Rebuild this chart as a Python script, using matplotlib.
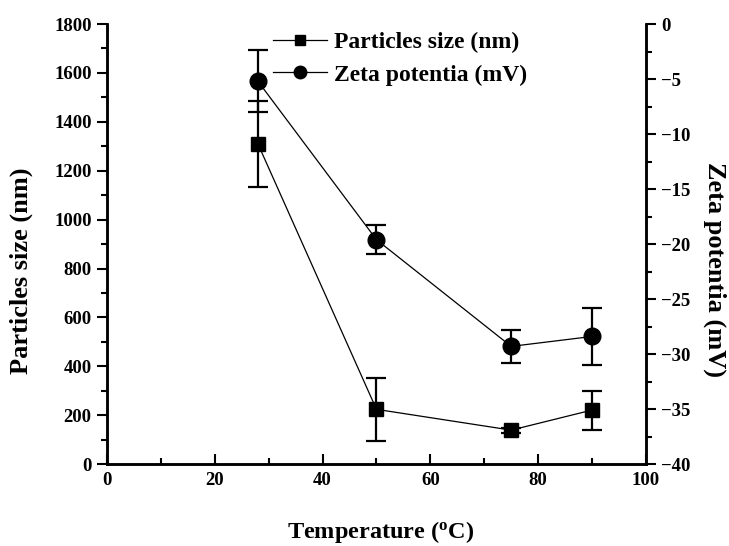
import numpy as np
import matplotlib
matplotlib.use('Agg')
import matplotlib.pyplot as plt
from matplotlib.lines import Line2D
from matplotlib.ticker import MultipleLocator

plt.rcParams['font.family'] = ['Liberation Serif', 'DejaVu Serif']
plt.rcParams['font.weight'] = 'bold'
plt.rcParams['mathtext.fontset'] = 'custom'
plt.rcParams['mathtext.rm'] = 'Liberation Serif:bold'

# 温度 (°C)
temperature = [28, 50, 75, 90]

# 粒径 (nm) 及误差
particle_size = [1310, 224, 139, 221]
size_err = [177, 130, 10, 80]

# Zeta 电位 (mV) 及误差
zeta = [-5.2, -19.6, -29.3, -28.4]
zeta_err = [2.8, 1.3, 1.5, 2.6]

fig = plt.figure(figsize=(7.29, 5.46), dpi=100)
ax = fig.add_axes([0.1468, 0.150, 0.7392, 0.806])
ax2 = ax.twinx()

ax.errorbar(temperature, particle_size, yerr=size_err, color='black',
            marker='s', markersize=10.5, linewidth=0.9, elinewidth=1.6,
            capsize=7, capthick=1.6)
ax2.errorbar(temperature, zeta, yerr=zeta_err, color='black',
             marker='o', markersize=12, linewidth=0.9, elinewidth=1.6,
             capsize=7, capthick=1.6)

ax.set_xlim(0, 100)
ax.set_ylim(0, 1800)
ax2.set_ylim(-40, 0)

ax.xaxis.set_major_locator(MultipleLocator(20))
ax.xaxis.set_minor_locator(MultipleLocator(10))
ax.yaxis.set_major_locator(MultipleLocator(200))
ax.yaxis.set_minor_locator(MultipleLocator(100))
ax2.yaxis.set_major_locator(MultipleLocator(5))
ax2.yaxis.set_minor_locator(MultipleLocator(2.5))

for a in (ax, ax2):
    a.spines['top'].set_visible(False)
    for s in ('left', 'right', 'bottom'):
        a.spines[s].set_linewidth(1.8)

ax.tick_params(axis='x', which='both', direction='in', width=1.5)
ax.tick_params(axis='x', which='major', length=7, labelsize=13.5, pad=6)
ax.tick_params(axis='x', which='minor', length=4)
ax.tick_params(axis='y', which='both', direction='out', width=1.5)
ax.tick_params(axis='y', which='major', length=7, labelsize=13.5, pad=4)
ax.tick_params(axis='y', which='minor', length=4)
ax2.tick_params(axis='y', which='both', direction='out', width=1.5)
ax2.tick_params(axis='y', which='major', length=7, labelsize=13.5, pad=4)
ax2.tick_params(axis='y', which='minor', length=4)

ax.set_xlabel(r'Temperature ($\mathregular{^o}$C)', fontsize=17.5, fontweight='bold')
ax.set_ylabel('Particles size (nm)', fontsize=19, fontweight='bold')
ax2.set_ylabel('Zeta potentia (mV)', fontsize=19, fontweight='bold', rotation=270)

# 轴标题位置（以标题中心定位）
ax.xaxis.set_label_coords(0.508, -0.154)
ax.yaxis.set_label_coords(-0.160, 0.439)
ax2.yaxis.set_label_coords(1.128, 0.443)
for lab in (ax.xaxis.label, ax.yaxis.label, ax2.yaxis.label):
    lab.set_verticalalignment('center')
    lab.set_horizontalalignment('center')

# 图例只显示线和标记，不带误差棒
handles = [
    Line2D([], [], color='black', linewidth=0.9, marker='s', markersize=7),
    Line2D([], [], color='black', linewidth=0.9, marker='o', markersize=9),
]
ax.legend(handles, ['Particles size (nm)', 'Zeta potentia (mV)'],
          loc='upper left', bbox_to_anchor=(0.308, 0.982), frameon=False,
          fontsize=17, handlelength=2.3, handletextpad=0.3,
          labelspacing=0.45, borderpad=0, borderaxespad=0)

fig.savefig('out.png', dpi=100)
